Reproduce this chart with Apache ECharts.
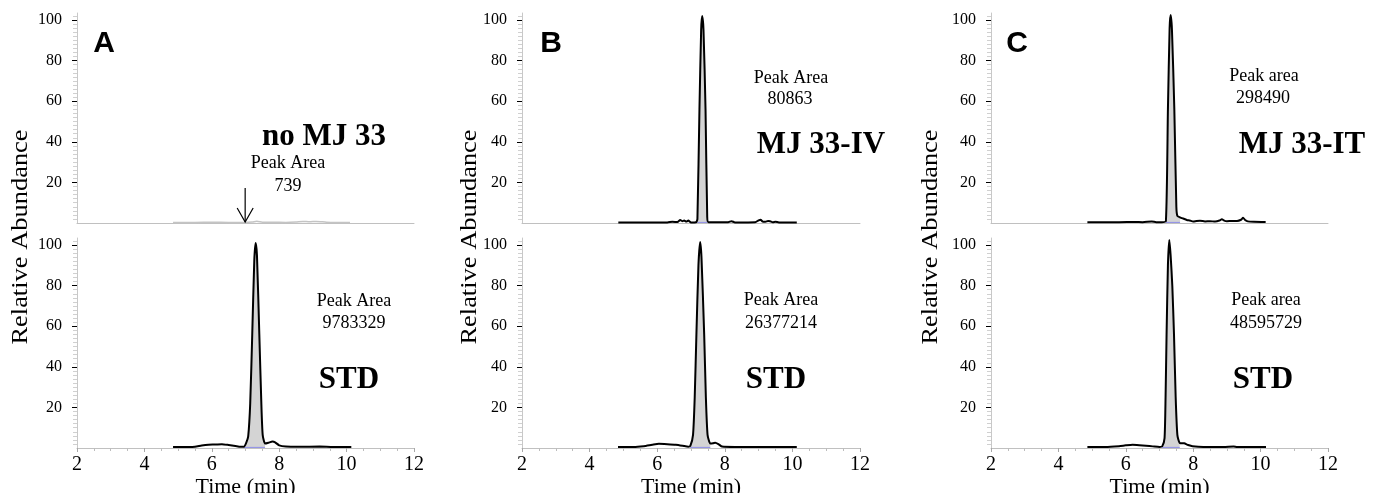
<!DOCTYPE html>
<html><head><meta charset="utf-8">
<script src="https://cdn.jsdelivr.net/npm/echarts@6/dist/echarts.min.js"></script>
<style>html,body{margin:0;padding:0;background:#fff}#c{width:1379px;height:493px}</style>
</head><body><div id="c"></div>
<script>
// ---- data (time in min, relative abundance in %) ----
const yTickValues = [20, 40, 60, 80, 100];
const xTickValues = [2, 4, 6, 8, 10, 12];

// Panel A top: no MJ 33 (Peak Area 739)
const tA1 = [4.85, 5.5, 6.0, 6.5, 7.0, 7.2, 7.34, 7.5, 7.8, 8.2, 8.5, 8.7, 8.9, 9.1, 9.4, 9.7, 10.1];
const vA1 = [0.3, 0.3, 0.35, 0.3, 0.3, 0.5, 0.9, 0.4, 0.35, 0.3, 0.5, 0.8, 0.6, 0.8, 0.4, 0.3, 0.3];

// Panel A bottom: STD (Peak Area 9783329)
const tA2 = [4.85, 5.3, 5.5, 5.7, 5.9, 6.1, 6.3, 6.5, 6.7, 6.85, 6.95, 7.02, 7.08, 7.14, 7.20, 7.26, 7.30, 7.34, 7.41, 7.47, 7.51, 7.58, 7.68, 7.8, 7.88, 8.0, 8.2, 8.6, 9.2, 9.6, 10.14];
const vA2 = [0.5, 0.5, 0.6, 1.2, 1.6, 1.7, 1.9, 1.5, 1.0, 0.6, 0.6, 2.5, 5.7, 22, 56, 92, 101, 95, 56, 22, 6.5, 2.2, 2.6, 3.2, 2.8, 1.3, 0.7, 0.6, 0.7, 0.5, 0.5];
const peakA2 = [6.95, 7.58];

// Panel B top: MJ 33-IV (Peak Area 80863)
const tB1 = [4.85, 6.3, 6.45, 6.6, 6.68, 6.74, 6.8, 6.86, 6.92, 7.0, 7.15, 7.19, 7.25, 7.30, 7.33, 7.37, 7.43, 7.48, 7.52, 8.1, 8.2, 8.3, 8.9, 9.0, 9.06, 9.12, 9.2, 9.28, 9.34, 9.42, 9.5, 9.6, 10.13];
const vB1 = [0.3, 0.3, 0.6, 0.5, 1.5, 0.9, 1.2, 0.7, 1.2, 0.3, 0.4, 2, 56, 95, 102, 95, 56, 3, 0.4, 0.4, 0.9, 0.3, 0.4, 1.3, 1.6, 0.7, 0.6, 1.0, 0.9, 0.4, 0.6, 0.3, 0.3];
const peakB1 = [7.19, 7.48];

// Panel B bottom: STD (Peak Area 26377214)
const tB2 = [4.84, 5.3, 5.6, 5.85, 6.05, 6.3, 6.55, 6.75, 6.92, 6.98, 7.06, 7.11, 7.16, 7.22, 7.27, 7.31, 7.39, 7.44, 7.49, 7.57, 7.65, 7.72, 7.82, 7.92, 8.3, 9.0, 10.13];
const vB2 = [0.5, 0.5, 0.9, 1.6, 2.1, 1.9, 1.6, 1.1, 0.6, 1.0, 6.5, 25, 56, 90, 101.5, 94, 56, 25, 6.5, 2.2, 2.3, 2.6, 1.8, 0.7, 0.5, 0.5, 0.5];
const peakB2 = [6.98, 7.57];

// Panel C top: MJ 33-IT (Peak area 298490)
const tC1 = [4.86, 5.8, 6.27, 6.5, 6.77, 6.9, 7.06, 7.19, 7.25, 7.30, 7.33, 7.37, 7.44, 7.50, 7.53, 7.61, 7.7, 7.81, 7.9, 8.0, 8.1, 8.2, 8.35, 8.5, 8.65, 8.78, 8.85, 8.92, 9.0, 9.15, 9.3, 9.42, 9.48, 9.54, 9.62, 9.8, 10.15];
const vC1 = [0.4, 0.4, 0.5, 0.4, 0.8, 0.4, 0.4, 1.0, 56, 96, 102.5, 95, 56, 8, 3.5, 2.8, 2.2, 1.5, 1.2, 0.7, 1.0, 1.1, 0.8, 0.9, 0.7, 1.2, 1.9, 1.2, 0.9, 1.0, 1.0, 1.6, 2.6, 1.5, 0.8, 0.6, 0.5];
const peakC1 = [7.19, 7.61];

// Panel C bottom: STD (Peak area 48595729)
const tC2 = [4.86, 5.4, 5.8, 6.0, 6.2, 6.4, 6.6, 6.8, 7.0, 7.08, 7.15, 7.18, 7.21, 7.25, 7.29, 7.33, 7.38, 7.43, 7.48, 7.53, 7.6, 7.73, 7.85, 7.98, 8.3, 8.9, 9.2, 9.3, 10.16];
const vC2 = [0.5, 0.5, 0.9, 1.3, 1.6, 1.4, 1.1, 0.8, 0.5, 0.8, 4.9, 25, 56, 90, 102.5, 95, 80, 56, 25, 6.5, 2.5, 2.3, 1.5, 0.9, 0.5, 0.5, 0.8, 0.5, 0.5];
const peakC2 = [7.08, 7.6];

// ---- layout ----
const SERIF = "'Liberation Serif', 'Times New Roman', serif";
const SANS = "'Liberation Sans', Arial, sans-serif";
const cols = [{left: 77, width: 337}, {left: 522, width: 338}, {left: 991, width: 337}];
const rows = [{top: 13, height: 210}, {top: 238, height: 210}];

const traces = [
  {t: tA1, v: vA1, peak: null, color: '#c4c4c4', w: 1.5},
  {t: tA2, v: vA2, peak: peakA2, color: '#000', w: 2},
  {t: tB1, v: vB1, peak: peakB1, color: '#000', w: 2},
  {t: tB2, v: vB2, peak: peakB2, color: '#000', w: 2},
  {t: tC1, v: vC1, peak: peakC1, color: '#000', w: 2},
  {t: tC2, v: vC2, peak: peakC2, color: '#000', w: 2}
];

const grids = [], xAxes = [], yAxes = [], series = [];
for (let c = 0; c < 3; c++) {
  for (let r = 0; r < 2; r++) {
    const idx = c * 2 + r;
    const bottom = r === 1;
    grids.push({left: cols[c].left, width: cols[c].width, top: rows[r].top, height: rows[r].height,
                containLabel: false, outerBoundsMode: 'none'});
    xAxes.push({
      type: 'value', gridIndex: idx, min: 2, max: 12, interval: 2,
      axisLine: {show: true, onZero: true, lineStyle: {color: '#c0c0c0', width: 1}},
      axisTick: {show: bottom, length: 4, lineStyle: {color: '#a8a8a8'}},
      minorTick: {show: bottom, splitNumber: 4, length: 3, lineStyle: {color: '#bdbdbd'}},
      axisLabel: {show: bottom, customValues: xTickValues, color: '#000', fontFamily: SERIF, fontSize: 20, margin: 7},
      splitLine: {show: false},
      name: bottom ? 'Time (min)' : '', nameLocation: 'middle', nameGap: 26,
      nameTextStyle: {color: '#000', fontFamily: SERIF, fontSize: 22}
    });
    yAxes.push({
      type: 'value', gridIndex: idx, min: 0, max: 103.5, interval: 20,
      axisLine: {show: true, lineStyle: {color: '#c8c8c8', width: 1}},
      axisTick: {show: true, customValues: yTickValues, length: 5, lineStyle: {color: '#000'}},
      minorTick: {show: true, splitNumber: 10, length: 4, lineStyle: {color: '#d0d0d0'}},
      axisLabel: {customValues: yTickValues, color: '#000', fontFamily: SERIF, fontSize: 16, margin: 15},
      splitLine: {show: false}
    });
    const tr = traces[idx];
    const pts = tr.t.map((x, i) => [x, tr.v[i]]);
    if (tr.peak) {
      series.push({
        type: 'line', xAxisIndex: idx, yAxisIndex: idx, silent: true, z: 2,
        data: pts.filter(p => p[0] >= tr.peak[0] && p[0] <= tr.peak[1]),
        symbol: 'none', smooth: 0.2, lineStyle: {width: 0},
        areaStyle: {color: '#d4d4d4', opacity: 1}
      });
      series.push({
        type: 'line', xAxisIndex: idx, yAxisIndex: idx, silent: true, z: 2,
        data: [[tr.peak[0], 0.3], [tr.peak[1], 0.3]],
        symbol: 'none', lineStyle: {color: '#8f8fe8', width: 1}
      });
    }
    series.push({
      type: 'line', xAxisIndex: idx, yAxisIndex: idx, silent: true, z: 3,
      data: pts, symbol: 'none', smooth: 0.2,
      lineStyle: {color: tr.color, width: tr.w}
    });
  }
}

function txt(id, x, y, text, size, bold, family, sx) {
  return {
    type: 'text', id: id, x: x, y: y, scaleX: sx || 1, silent: true, z: 10,
    style: {text: text, fontFamily: family || SERIF, fontSize: size, fontWeight: bold ? 'bold' : 'normal',
            fill: '#000', align: 'center', verticalAlign: 'middle'}
  };
}

const graphics = [
  txt('la', 104, 44, 'A', 30, true, SANS),
  txt('lb', 551, 44, 'B', 30, true, SANS),
  txt('lc', 1017, 44, 'C', 30, true, SANS),
  txt('a1', 324, 137, 'no MJ 33', 31, true),
  txt('a2', 288, 163, 'Peak Area', 18),
  txt('a3', 288, 186, '739', 18),
  txt('a4', 354, 301, 'Peak Area', 18),
  txt('a5', 354, 323, '9783329', 18),
  txt('a6', 349, 380, 'STD', 31, true),
  txt('b1', 791, 78, 'Peak Area', 18),
  txt('b2', 790, 99, '80863', 18),
  txt('b3', 821, 145, 'MJ 33-IV', 31, true),
  txt('b4', 781, 300, 'Peak Area', 18),
  txt('b5', 781, 323, '26377214', 18),
  txt('b6', 776, 380, 'STD', 31, true),
  txt('c1', 1264, 76, 'Peak area', 18),
  txt('c2', 1263, 98, '298490', 18),
  txt('c3', 1302, 145, 'MJ 33-IT', 31, true),
  txt('c4', 1266, 300, 'Peak area', 18),
  txt('c5', 1266, 323, '48595729', 18),
  txt('c6', 1263, 380, 'STD', 31, true)
];
const yNames = [[21, 237], [470, 237], [931, 237]];
yNames.forEach((p, i) => {
  const g = txt('yn' + i, p[0], p[1], 'Relative Abundance', 23, false, SERIF, 1.15);
  g.rotation = Math.PI / 2;
  graphics.push(g);
});

const chart = echarts.init(document.getElementById('c'), null, {renderer: 'canvas'});
chart.setOption({
  animation: false,
  backgroundColor: '#fff',
  grid: grids, xAxis: xAxes, yAxis: yAxes, series: series,
  graphic: graphics
});

// arrow marking the expected peak position in panel A (top)
const arrowTime = 6.99;
const tail = chart.convertToPixel({xAxisIndex: 0, yAxisIndex: 0}, [arrowTime, 17.2]);
const tip = chart.convertToPixel({xAxisIndex: 0, yAxisIndex: 0}, [arrowTime, 0.5]);
chart.setOption({
  graphic: [
    {type: 'line', id: 'arrShaft', silent: true, z: 10, shape: {x1: tail[0], y1: tail[1], x2: tip[0], y2: tip[1]}, style: {stroke: '#000', lineWidth: 1.2}},
    {type: 'polyline', id: 'arrHead', silent: true, z: 10, shape: {points: [[tip[0] - 8, tip[1] - 14], [tip[0], tip[1]], [tip[0] + 8, tip[1] - 14]]}, style: {stroke: '#000', lineWidth: 1.2, fill: null}}
  ]
});
</script></body></html>
